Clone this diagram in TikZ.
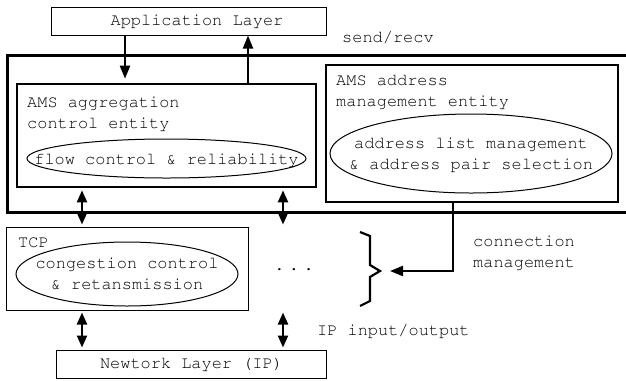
\documentclass[tikz,border=0pt]{standalone}
\usepackage[T1]{fontenc}
\usepackage{courier}
\usetikzlibrary{arrows.meta}
\usetikzlibrary{positioning}

\tikzset{
  every node/.style={font=\ttfamily\fontsize{17}{21}\selectfont, inner sep=0pt},
  layerbox/.style={draw, line width=1bp, minimum height=28bp},
  entitybox/.style={draw, line width=2.6bp},
  boxtitle/.style={anchor=north west, align=left},
  oval/.style={line width=1bp},
  arr/.style={line width=2.2bp, -{Triangle[length=13bp,width=10bp]}},
  darr/.style={line width=2.2bp, {Triangle[length=12bp,width=10bp]}-{Triangle[length=12bp,width=10bp]},
               shorten <=2bp, shorten >=2bp},
}

\begin{document}
\begin{tikzpicture}[x=1bp, y=-1bp]
            % Frame to fix the page size:
            \useasboundingbox (0,0) rectangle (626,380);
            \clip (0,0) rectangle (626,380);

            % layers above and below
            \node[layerbox, minimum width=274bp] (app) at (189,21)   {\hspace*{16bp}Application Layer};
            \node[layerbox, minimum width=269bp] (net) at (191.5,364) {Newtork Layer (IP)};

            % AMS frame, runs off the right edge
            \node[draw, line width=3bp, minimum width=632bp, minimum height=157bp] (ams) at (324,133.5) {};

            % aggregation control entity
            \node[entitybox, minimum width=299bp, minimum height=103bp] (agg) at (166.5,135.5) {};
            \node[boxtitle] (aggtitle) at (27,96.3) {AMS aggregation\\control entity};
            \node (flow) at (166.5,160) {flow control \& reliability};
            \draw[oval] (166.5,158.5) ellipse [x radius=139.5bp, y radius=19.5bp];

            % address management entity
            \node[entitybox, minimum width=292bp, minimum height=137bp] (addr) at (472,133.5) {};
            \node[boxtitle] (addrtitle) at (336,74.3) {AMS address\\management entity};
            \node[align=center] (sel) at (471,154.5) {address list management\\\& address pair selection};
            \draw[oval] (471,153.5) ellipse [x radius=141bp, y radius=39.5bp];

            % TCP
            \node[layerbox, minimum width=241bp, minimum height=83bp] (tcp) at (127.5,268.5) {};
            \node[boxtitle] (tcptitle) at (18,237.4) {TCP};
            \node[align=center] (cc) at (127,274) {congestion control\\\& retansmission};
            \draw[oval] (cc.center) ellipse [x radius=111bp, y radius=32bp];

            % further transport instances
            \node (dots) at (294,270) {.\hspace{4.5bp}.\hspace{4.5bp}.};
            \coordinate (brtip) at (380,271);
            \draw[line width=2.2bp] (360,232) -- (370,236) -- (370,265) -- (brtip)
                                    -- (370,277) -- (370,301) -- (360,306);

            % labels
            \node[anchor=base west] (sendrecv) at (342,42)  {send/recv};
            \node[boxtitle]         (cmlabel)  at (473,235.5) {connection\\management};
            \node[anchor=base west] (iolabel)  at (317,335) {IP input/output};

            % connectors
            \coordinate (dnx) at (125,0);
            \coordinate (upx) at (248,0);
            \coordinate (lx)  at (82,0);
            \coordinate (rx)  at (283,0);
            \coordinate (cmx) at (453,0);
            \draw[arr] (app.south -| dnx) -- ([yshift=4bp]agg.north -| dnx);
            \draw[arr] (agg.north -| upx) -- (app.south -| upx);
            \draw[darr] (agg.south -| lx) -- (tcp.north -| lx);
            \draw[darr] (agg.south -| rx) -- (tcp.north -| rx);
            \draw[darr] (tcp.south -| lx) -- (net.north -| lx);
            \draw[darr] (tcp.south -| rx) -- (net.north -| rx);
            \draw[arr] (addr.south -| cmx) |- ([xshift=10bp]brtip);
        \end{tikzpicture}
\end{document}
